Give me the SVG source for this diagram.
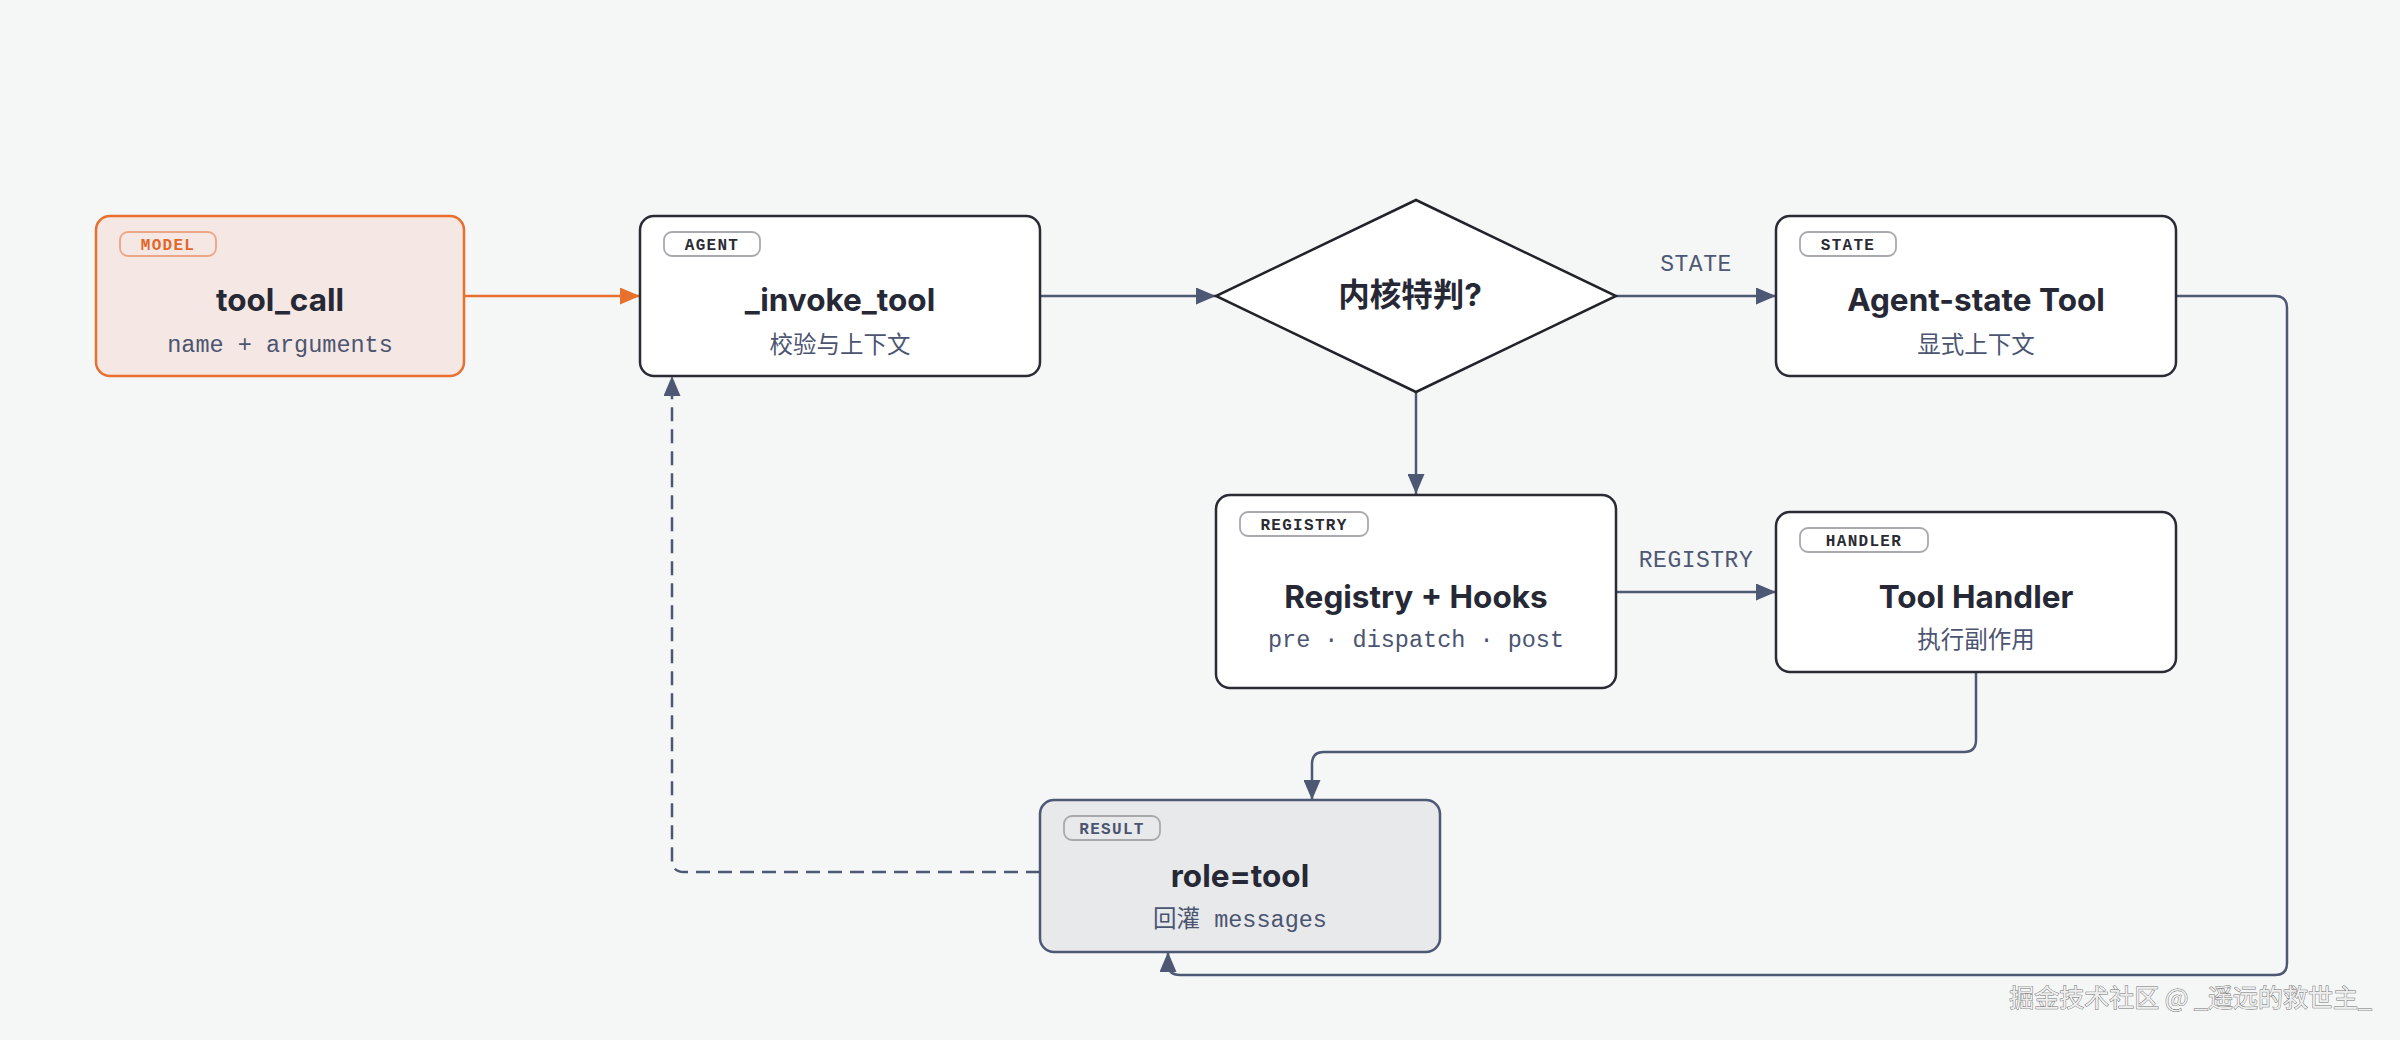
<svg xmlns="http://www.w3.org/2000/svg" width="2400" height="1040" viewBox="0 0 2400 1040">
<defs>
<style>
.box{fill:#ffffff;stroke:#2a2b33;stroke-width:2.5}
.badge{fill:none;stroke:#a9a9ad;stroke-width:1.8}
.btxt{font-family:"Liberation Mono","DejaVu Sans Mono",monospace;font-weight:700;font-size:16px;letter-spacing:1.3px;fill:#2a2b33;text-anchor:middle}
.title{font-family:Inter,"Noto Sans CJK SC",sans-serif;font-weight:700;font-size:31.5px;fill:#262935;text-anchor:middle}
.sub{font-family:"Noto Sans CJK SC","Noto Sans",sans-serif;font-size:23.5px;fill:#4b5571;text-anchor:middle}
.mono{font-family:"Liberation Mono","Noto Sans CJK SC",monospace;font-size:23.5px;fill:#4b5571;text-anchor:middle}
.edge{fill:none;stroke:#4d5874;stroke-width:2.5}
.elabel{font-family:"Liberation Mono",monospace;font-size:23px;fill:#4d5874;text-anchor:middle;letter-spacing:0.5px}
</style>
<marker id="ah" viewBox="0 0 20 17" refX="20" refY="8.5" markerWidth="20" markerHeight="17" markerUnits="userSpaceOnUse" orient="auto">
<path d="M0,0 L20,8.5 L0,17 Z" fill="#4d5874"/>
</marker>
<marker id="aho" viewBox="0 0 20 17" refX="20" refY="8.5" markerWidth="20" markerHeight="17" markerUnits="userSpaceOnUse" orient="auto">
<path d="M0,0 L20,8.5 L0,17 Z" fill="#e8702c"/>
</marker>
</defs>
<rect x="0" y="0" width="2400" height="1040" fill="#f5f6f6"/>

<g id="connectors">
<path d="M464,296 L640,296" fill="none" stroke="#e8702c" stroke-width="2.5" marker-end="url(#aho)"/>
<path class="edge" d="M1040,296 L1216,296" marker-end="url(#ah)"/>
<path class="edge" d="M1616,296 L1776,296" marker-end="url(#ah)"/>
<path class="edge" d="M1416,392 L1416,494" marker-end="url(#ah)"/>
<path class="edge" d="M1616,592 L1776,592" marker-end="url(#ah)"/>
<path class="edge" d="M1976,672 L1976,740 Q1976,752 1964,752 L1324,752 Q1312,752 1312,764 L1312,800" marker-end="url(#ah)"/>
<path class="edge" d="M2176,296 L2275,296 Q2287,296 2287,308 L2287,963 Q2287,975 2275,975 L1180,975 Q1168,975 1168,963 L1168,952" marker-end="url(#ah)"/>
<path class="edge" d="M1040,872 L684,872 Q672,872 672,860 L672,376" stroke-dasharray="14 8" marker-end="url(#ah)"/>
<text class="elabel" x="1696" y="271">STATE</text>
<text class="elabel" x="1696" y="567">REGISTRY</text>
</g>

<g id="model">
<rect x="96" y="216" width="368" height="160" rx="14" fill="#f5e7e3" stroke="#e8702c" stroke-width="2.5"/>
<rect x="120" y="232" width="96" height="24" rx="8" fill="none" stroke="#eba685" stroke-width="1.8"/>
<text class="btxt" x="168" y="249.5" style="fill:#e2672a">MODEL</text>
<text class="title" x="280" y="311">tool_call</text>
<text class="mono" x="280" y="352">name + arguments</text>
</g>

<g id="agent">
<rect class="box" x="640" y="216" width="400" height="160" rx="14"/>
<rect class="badge" x="664" y="232" width="96" height="24" rx="8"/>
<text class="btxt" x="712" y="249.5">AGENT</text>
<text class="title" x="840" y="311">_invoke_tool</text>
<text class="sub" x="840" y="353">校验与上下文</text>
</g>

<g id="decision">
<polygon points="1416,200 1616,296 1416,392 1216,296" fill="#ffffff" stroke="#222328" stroke-width="2.5"/>
<text class="title" x="1410" y="306">内核特判?</text>
</g>

<g id="state">
<rect class="box" x="1776" y="216" width="400" height="160" rx="14"/>
<rect class="badge" x="1800" y="232" width="96" height="24" rx="8"/>
<text class="btxt" x="1848" y="249.5">STATE</text>
<text class="title" x="1976" y="311">Agent-state Tool</text>
<text class="sub" x="1976" y="353">显式上下文</text>
</g>

<g id="registry">
<rect class="box" x="1216" y="495" width="400" height="193" rx="14"/>
<rect class="badge" x="1240" y="512" width="128" height="24" rx="8"/>
<text class="btxt" x="1304" y="529.5">REGISTRY</text>
<text class="title" x="1416" y="608">Registry + Hooks</text>
<text class="mono" x="1416" y="647">pre · dispatch · post</text>
</g>

<g id="handler">
<rect class="box" x="1776" y="512" width="400" height="160" rx="14"/>
<rect class="badge" x="1800" y="528" width="128" height="24" rx="8"/>
<text class="btxt" x="1864" y="545.5">HANDLER</text>
<text class="title" x="1976" y="608">Tool Handler</text>
<text class="sub" x="1976" y="648">执行副作用</text>
</g>

<g id="result">
<rect x="1040" y="800" width="400" height="152" rx="14" fill="#e8e9ea" stroke="#4d5874" stroke-width="2.5"/>
<rect class="badge" x="1064" y="816" width="96" height="24" rx="8"/>
<text class="btxt" x="1112" y="833.5" style="fill:#4b5571">RESULT</text>
<text class="title" x="1240" y="887">role=tool</text>
<text class="mono" x="1240" y="927">回灌 messages</text>
</g>

<text x="2372" y="1007" text-anchor="end" font-family="'Noto Sans CJK SC',sans-serif" font-size="25" fill="#eeeeee" stroke="#707070" stroke-width="0.9" paint-order="stroke">掘金技术社区 @ _遥远的救世主_</text>
</svg>
